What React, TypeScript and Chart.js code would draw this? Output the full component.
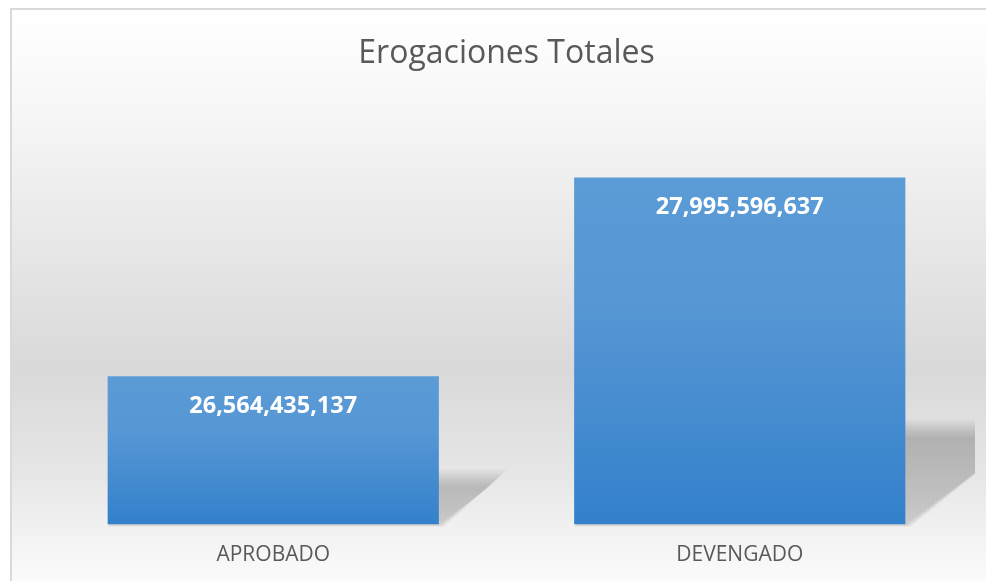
import React, { useEffect, useRef } from "react";
import { Chart, registerables } from "chart.js";

Chart.register(...registerables);

const chartTitle = "Erogaciones Totales";
const categories = ["APROBADO", "DEVENGADO"];
const values = [26564435137, 27995596637];
const axisMin = 25500000000;
const axisMax = 28500000000;

const BAR_PERCENT = 0.71;
const FONT = '"Open Sans", "DejaVu Sans", sans-serif';

function drawShadows(chart: any) {
  const ctx = chart.ctx;
  const area = chart.chartArea;
  const xs = chart.scales.x;
  const ys = chart.scales.y;
  if (!area || !xs || !ys) return;
  const catW = (area.right - area.left) / categories.length;
  const barW = catW * BAR_PERCENT;
  const R = area.right + 2;
  const base = ys.getPixelForValue(axisMin);
  for (let idx = 0; idx < values.length; idx++) {
    const cx = xs.getPixelForValue(idx);
    const y = ys.getPixelForValue(values[idx]);
    const left = cx - barW / 2;
    const right = cx + barW / 2;
    const h = base - y;
    const k = 0.25;
    const s = 0.34;
    for (let i = 10; i >= 0; i--) {
      const grow = i * 1.8;
      const topY = base - h * k - grow;
      const x0 = right + grow * 0.3;
      const y0 = base + grow * 0.15;
      const x1 = right + h * s + grow;
      const pts: number[][] = [[left, y0], [x0, y0]];
      if (x1 > R) {
        const t = (R - x0) / (x1 - x0);
        pts.push([R, y0 + (topY - y0) * t]);
        pts.push([R, topY]);
      } else {
        pts.push([x1, topY]);
      }
      pts.push([left + h * s, topY]);
      const g = ctx.createLinearGradient(0, topY, 0, y0);
      g.addColorStop(0, "rgba(0,0,0,0.024)");
      g.addColorStop(1, "rgba(0,0,0,0.014)");
      ctx.save();
      ctx.beginPath();
      ctx.moveTo(pts[0][0], pts[0][1]);
      for (let p = 1; p < pts.length; p++) ctx.lineTo(pts[p][0], pts[p][1]);
      ctx.closePath();
      ctx.fillStyle = g;
      ctx.fill();
      ctx.restore();
    }
  }
}

const backgroundPlugin = {
  id: "bgGradient",
  beforeDraw(chart: any) {
    const { ctx, width, height } = chart;
    const g = ctx.createLinearGradient(0, 0, 0, height);
    g.addColorStop(0, "#ffffff");
    g.addColorStop(0.15, "#f8f8f8");
    g.addColorStop(0.35, "#ebebeb");
    g.addColorStop(0.62, "#d9d9d9");
    g.addColorStop(0.8, "#e6e6e6");
    g.addColorStop(1, "#fdfdfd");
    ctx.save();
    ctx.fillStyle = g;
    ctx.fillRect(0, 0, width, height);
    ctx.restore();
  },
  beforeDatasetsDraw(chart: any) {
    drawShadows(chart);
  },
};

const labelPlugin = {
  id: "barLabels",
  afterDatasetsDraw(chart: any) {
    const { ctx } = chart;
    const meta = chart.getDatasetMeta(0);
    ctx.save();
    ctx.font = `bold 23.5px ${FONT}`;
    ctx.fillStyle = "#ffffff";
    ctx.textAlign = "center";
    ctx.textBaseline = "alphabetic";
    meta.data.forEach((bar: any, i: number) => {
      ctx.fillText(values[i].toLocaleString("en-US"), bar.x, bar.y + 37);
    });
    ctx.restore();
  },
};

export default function App() {
  const canvasRef = useRef<HTMLCanvasElement | null>(null);

  useEffect(() => {
    if (!canvasRef.current) return;
    const chart = new Chart(canvasRef.current, {
      type: "bar",
      data: {
        labels: categories,
        datasets: [
          {
            label: chartTitle,
            data: values,
            barPercentage: BAR_PERCENT,
            categoryPercentage: 1,
            borderWidth: 0,
            backgroundColor: (context: any) => {
              const c = context.chart;
              const ys = c.scales && c.scales.y;
              if (!ys || !c.chartArea || context.raw == null) return "#4a8fd0";
              const top = ys.getPixelForValue(context.raw);
              const bottom = ys.getPixelForValue(axisMin);
              if (!Number.isFinite(top) || !Number.isFinite(bottom) || top === bottom) return "#4a8fd0";
              const g = c.ctx.createLinearGradient(0, top, 0, bottom);
              g.addColorStop(0, "#5b9bd6");
              g.addColorStop(0.4, "#5596d4");
              g.addColorStop(1, "#3380cb");
              return g;
            },
          },
        ],
      },
      options: {
        animation: false,
        responsive: false,
        maintainAspectRatio: false,
        layout: { padding: { left: 28, right: 29, top: 0, bottom: 4.5 } },
        plugins: {
          legend: { display: false },
          tooltip: { enabled: false },
          title: {
            display: true,
            text: chartTitle,
            color: "#595959",
            font: { family: FONT, size: 32, weight: "normal" },
            padding: { top: 25, bottom: 33.9 },
          },
        },
        scales: {
          x: {
            grid: { display: false, drawTicks: false },
            border: { display: false },
            ticks: {
              color: "#595959",
              font: { family: FONT, size: 21 },
              padding: 18,
            },
          },
          y: {
            display: false,
            min: axisMin,
            max: axisMax,
          },
        },
      },
      plugins: [backgroundPlugin, labelPlugin],
    });
    return () => chart.destroy();
  }, []);

  return (
    <div
      style={{
        position: "fixed",
        left: 10,
        top: 8,
        width: 990,
        height: 580,
        border: "2px solid #d9d9d9",
        background: "#ffffff",
      }}
    >
      <canvas ref={canvasRef} width={990} height={580} style={{ display: "block" }} />
    </div>
  );
}
